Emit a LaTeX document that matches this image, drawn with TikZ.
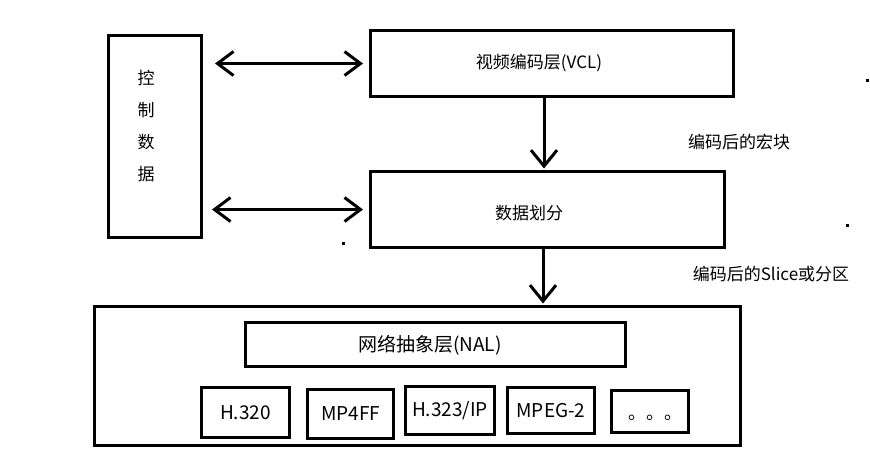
\documentclass[tikz,border=0pt]{standalone}
\usepackage{fontspec}
\setmainfont{Noto Sans CJK SC}
\usetikzlibrary{arrows.meta}
\begin{document}
\begin{tikzpicture}[x=1pt,y=-1pt,
  box/.style={draw, line width=3pt, inner sep=0pt, anchor=center, font=\fontsize{19}{22}\selectfont},
  lbl/.style={inner sep=0pt, font=\fontsize{17}{20}\selectfont},
  arr/.style={line width=3pt, -{Straight Barb[length=16pt,width=26pt]}},
  biarr/.style={line width=3pt, {Straight Barb[length=16pt,width=24pt]}-{Straight Barb[length=16pt,width=24pt]}}]
\useasboundingbox (0,0) rectangle (870,464);
% control data
\node[box, minimum width=93pt, minimum height=202pt] (ctl) at (155,136.5) {};
\node[lbl, align=center, font=\fontsize{17}{32}\selectfont] (ctltxt) at (146,126) {控\\制\\数\\据};
% VCL
\node[box, minimum width=363pt, minimum height=66pt] (vcl) at (552,63.5) {};
\node[lbl] (vcltxt) at (539,63) {视频编码层(VCL)};
% data partition
\node[box, minimum width=354pt, minimum height=76pt] (part) at (547.5,209.5) {};
\node[lbl] (parttxt) at (529,213) {数据划分};
% NAL container
\node[box, minimum width=646pt, minimum height=139pt] (outer) at (417.5,376) {};
\node[box, minimum width=380pt, minimum height=44pt] (nal) at (435.5,344.5) {};
\node[lbl, font=\fontsize{19}{22}\selectfont] (naltxt) at (430,345) {网络抽象层(NAL)};
\node[box, minimum width=88pt, minimum height=50pt] (h320) at (245.5,412.5) {H.320};
\node[box, minimum width=86pt, minimum height=49pt] (mp4) at (350.5,414) {MP4FF};
\node[box, minimum width=89pt, minimum height=48pt] (h323) at (450,410.5) {H.323/IP};
\node[box, minimum width=87pt, minimum height=46pt] (mpeg) at (551,410.5) {MPEG-2};
\node[box, minimum width=77pt, minimum height=42pt] (etc) at (650,411.5) {};
\node[lbl, font=\fontsize{18}{20}\selectfont] (etctxt) at (655,418) {。。。};
% labels
\node[lbl] (l1) at (739,142) {编码后的宏块};
\node[lbl] (l2) at (771,274) {编码后的Slice或分区};
% connectors
\draw[biarr, shorten <=12pt, shorten >=6pt] (ctl.east |- vcl.west) -- (vcl.west);
\draw[biarr, shorten <=9pt, shorten >=6pt] (ctl.east |- part.west) -- (part.west);
\draw[arr, shorten >=1.5pt] ([xshift=-8pt]vcl.south) -- ([xshift=-8pt]vcl.south |- part.north);
\draw[arr, shorten >=1.5pt] ([xshift=-4.5pt]part.south) -- ([xshift=-4.5pt]part.south |- outer.north);
% stray dots
\fill (866,79) rectangle (869,82);
\fill (846,224) rectangle (849,227);
\fill (342,242) rectangle (345,245);
\end{tikzpicture}
\end{document}
